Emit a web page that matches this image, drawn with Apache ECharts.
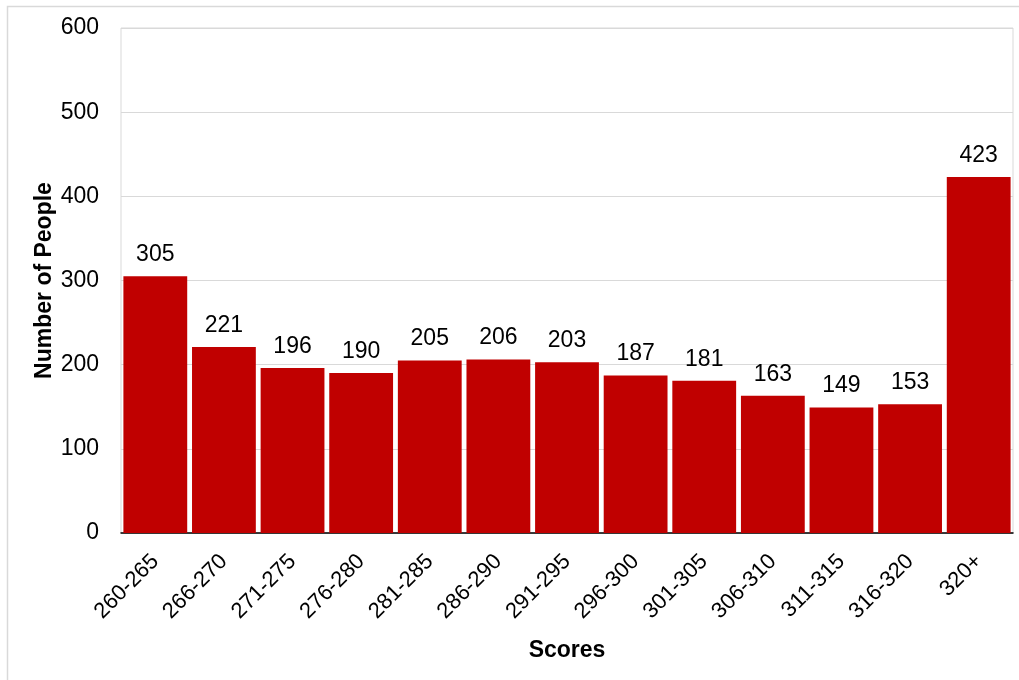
<!DOCTYPE html>
<html>
<head>
<meta charset="utf-8">
<title>Scores</title>
<script src="https://cdn.jsdelivr.net/npm/echarts@6/dist/echarts.min.js"></script>
<style>
  html, body { margin: 0; padding: 0; background: #ffffff; }
  #chart { width: 1019px; height: 680px; }
</style>
</head>
<body>
<div id="chart"></div>
<script>
// Score bands and head counts
const scoreBands = ['260-265', '266-270', '271-275', '276-280', '281-285', '286-290',
  '291-295', '296-300', '301-305', '306-310', '311-315', '316-320', '320+'];
const peopleCounts = [305, 221, 196, 190, 205, 206, 203, 187, 181, 163, 149, 153, 423];
const yTicks = [0, 100, 200, 300, 400, 500, 600];

const font = 'Liberation Sans, Arial, sans-serif';
const chart = echarts.init(document.getElementById('chart'), null, { renderer: 'canvas' });

chart.setOption({
  animation: false,
  backgroundColor: '#ffffff',
  graphic: [{
    type: 'rect',
    silent: true,
    shape: { x: 7.5, y: 6.5, width: 1100, height: 1100 },
    style: { fill: 'none', stroke: '#d9d9d9', lineWidth: 1.5 }
  }],
  grid: {
    left: 121, right: 6, top: 28, bottom: 147,
    show: true, borderColor: '#d9d9d9', borderWidth: 1, backgroundColor: 'transparent'
  },
  xAxis: {
    type: 'category',
    data: scoreBands,
    name: 'Scores',
    nameLocation: 'middle',
    nameGap: 106,
    nameTextStyle: { fontFamily: font, fontSize: 23, fontWeight: 'bold', color: '#000' },
    axisLine: { lineStyle: { color: '#000', width: 1.5 } },
    axisTick: { show: false },
    axisLabel: {
      rotate: 45, interval: 0, margin: 25,
      fontFamily: font, fontSize: 22, color: '#000'
    }
  },
  yAxis: {
    type: 'value',
    min: yTicks[0],
    max: yTicks[yTicks.length - 1],
    interval: 100,
    name: 'Number of People',
    nameLocation: 'middle',
    nameGap: 65,
    nameMoveOverlap: false,
    nameTextStyle: { fontFamily: font, fontSize: 23, fontWeight: 'bold', color: '#000' },
    axisLine: { show: false },
    axisTick: { show: false },
    splitLine: { lineStyle: { color: '#d9d9d9', width: 1 } },
    axisLabel: { margin: 22, fontFamily: font, fontSize: 23, color: '#000' }
  },
  series: [{
    type: 'bar',
    data: peopleCounts,
    barCategoryGap: '7%',
    itemStyle: { color: '#c00000' },
    label: {
      show: true, position: 'top', distance: 10,
      fontFamily: font, fontSize: 23, color: '#000'
    }
  }]
});
</script>
</body>
</html>
